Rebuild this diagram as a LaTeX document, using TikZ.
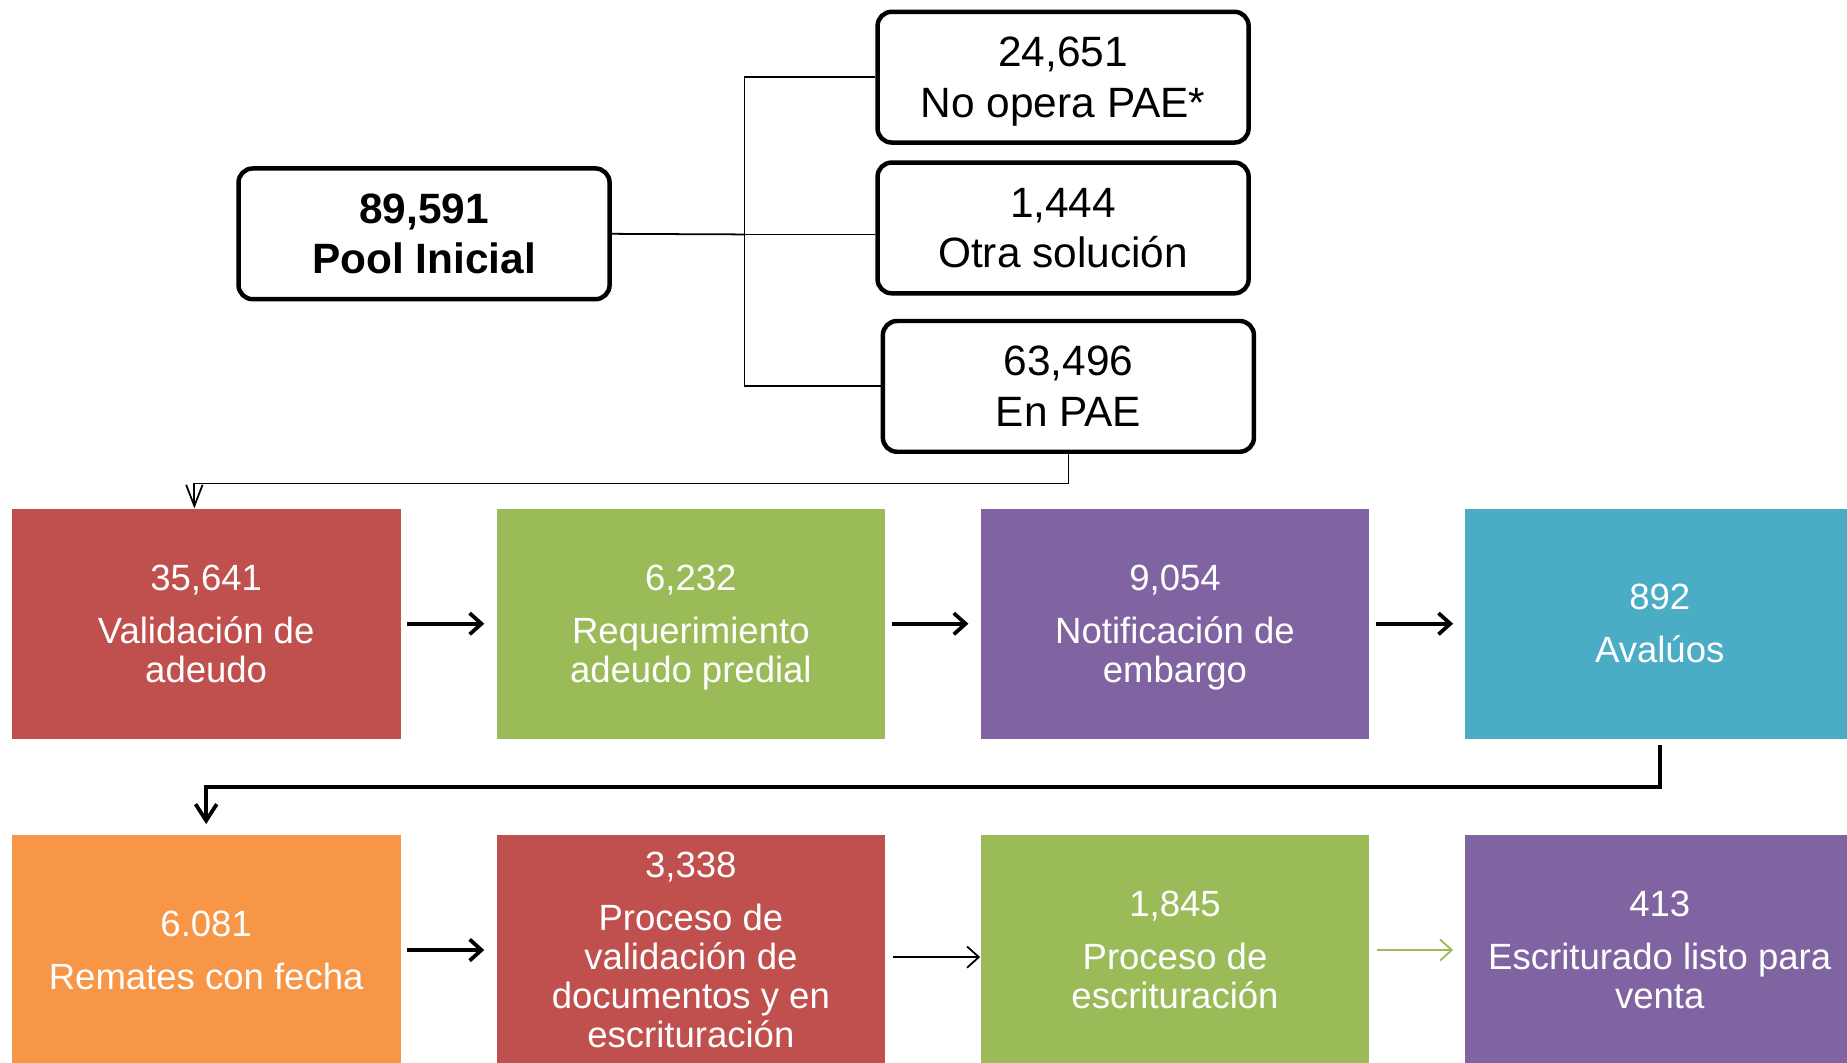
\documentclass[tikz,border=0pt]{standalone}
\usepackage{fontspec}
\setmainfont{Liberation Sans}
\usetikzlibrary{arrows.meta}
\definecolor{cred}{HTML}{C0504D}
\definecolor{cgreen}{HTML}{9BBB59}
\definecolor{cpurple}{HTML}{8064A2}
\definecolor{cteal}{HTML}{4BACC6}
\definecolor{corange}{HTML}{F79646}
\begin{document}
\begin{tikzpicture}[x=0.5pt,y=-0.5pt,
  topbox/.style={draw=black, line width=1.9pt, rounded corners=6pt, minimum width=157.5pt, minimum height=55.5pt, inner sep=0pt, align=center, text depth=-1pt, font=\fontsize{18}{21.5}\selectfont},
  stepbox/.style={fill=#1, minimum width=165pt, minimum height=97.5pt, inner sep=0pt, align=center, text depth=0.2pt, text=white, font=\fontsize{15.5}{16.5}\selectfont},
  conn/.style={draw=black, line width=0.75pt},
  thinarr/.style={line width=0.75pt, -{Straight Barb[length=5pt,width=9pt]}},
  thickarr/.style={line width=1.6pt, -{Straight Barb[length=5pt,width=9pt]}},
]
\path[use as bounding box] (0,0) rectangle (1568,902);
\clip (0,0) rectangle (1568,902);

% top part
\node[topbox, font=\fontsize{18}{21.5}\selectfont\bfseries] (pool) at (360,198.5) {89,591\\Pool Inicial};
\node[topbox] (noop) at (902.5,65.5) {24,651\\No opera PAE*};
\node[topbox] (otra) at (902.5,193.5) {1,444\\Otra solución};
\node[topbox] (enpae) at (907,328) {63,496\\En PAE};

\coordinate (j) at (632,199);
\draw[conn] (pool.east) -- (j);
\draw[conn] (j) |- (noop.west);
\draw[conn] (j) -- (j -| otra.west);
\draw[conn] (j) |- (enpae.west);

% row 1
\node[stepbox=cred] (b1) at (175,529.5) {35,641\\[6pt]Validación de\\adeudo};
\node[stepbox=cgreen] (b2) at (586.5,529.5) {6,232\\[6pt]Requerimiento\\adeudo predial};
\node[stepbox=cpurple] (b3) at (997.5,529.5) {9,054\\[6pt]Notificación de\\embargo};
\node[stepbox=cteal] (b4) at (1409,529.5) {892\\[6pt]Avalúos};

\draw[line width=0.75pt, -{Straight Barb[length=9pt,width=7pt]}] (enpae.south) -- ++(0,25) -| ([xshift=-5pt]b1.north);

\draw[thickarr] ([xshift=2.5pt]b1.east) -- ([xshift=-5pt]b2.west);
\draw[thickarr] ([xshift=2.5pt]b2.east) -- ([xshift=-5pt]b3.west);
\draw[thickarr] ([xshift=2.5pt]b3.east) -- ([xshift=-5pt]b4.west);

% row 2
\node[stepbox=corange] (b5) at (175,806.5) {6.081\\[6pt]Remates con fecha};
\node[stepbox=cred] (b6) at (586.5,806.5) {3,338\\[6pt]Proceso de\\validación de\\documentos y en\\escrituración};
\node[stepbox=cgreen] (b7) at (997.5,806.5) {1,845\\[6pt]Proceso de\\escrituración};
\node[stepbox=cpurple] (b8) at (1409,806.5) {413\\[6pt]Escriturado listo para\\venta};

\draw[line width=1.6pt, -{Straight Barb[length=7pt,width=9pt]}] ([yshift=-2.5pt]b4.south) -- ++(0,36) -| ([yshift=4.5pt]b5.north);

\draw[thickarr] ([xshift=2.5pt]b5.east) -- ([xshift=-5pt]b6.west);
\draw[thinarr] ([xshift=3pt,yshift=-3pt]b6.east) -- ([yshift=-3pt]b7.west);
\draw[thinarr, draw=cgreen] ([xshift=3pt]b7.east) -- ([xshift=-5pt]b8.west);
\end{tikzpicture}
\end{document}
